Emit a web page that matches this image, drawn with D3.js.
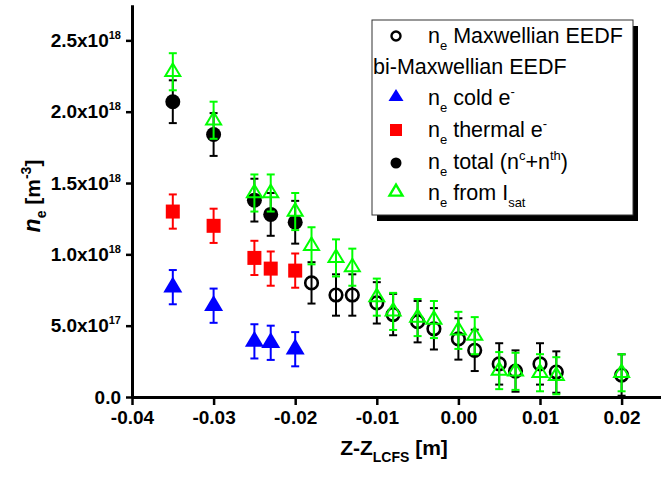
<!DOCTYPE html>
<html>
<head>
<meta charset="utf-8">
<script src="https://cdn.jsdelivr.net/npm/d3@7"></script>
<style>
  body { margin: 0; background: #fff; }
  svg { display: block; font-family: "Liberation Sans", Arial, sans-serif; }
</style>
</head>
<body>
<svg id="chart" width="661" height="477"></svg>
<script>
// Electron density profiles versus distance from the last closed flux surface
const E18 = 1e18;

// bi-Maxwellian EEDF fits (probe positions and densities, m^-3)
const biZ        = [-0.035, -0.030, -0.025, -0.023, -0.020];
const coldNe     = [0.77, 0.64, 0.39, 0.38, 0.335].map(v => v * E18);
const coldErr    = [0.12, 0.12, 0.12, 0.12, 0.12].map(v => v * E18);
const thermalNe  = [1.30, 1.20, 0.975, 0.90, 0.886].map(v => v * E18);
const thermalErr = [0.12, 0.12, 0.12, 0.12, 0.12].map(v => v * E18);
const totalNe    = [2.07, 1.84, 1.38, 1.28, 1.225].map(v => v * E18);
const totalErr   = [0.15, 0.15, 0.15, 0.15, 0.15].map(v => v * E18);

// Maxwellian EEDF fits
const maxZ   = [-0.018, -0.015, -0.013, -0.010, -0.008, -0.005, -0.003, 0.000, 0.002, 0.005, 0.007, 0.010, 0.012, 0.020];
const maxNe  = [0.80, 0.715, 0.715, 0.66, 0.578, 0.528, 0.478, 0.407, 0.327, 0.232, 0.182, 0.232, 0.175, 0.154].map(v => v * E18);
const maxErr = [0.145, 0.145, 0.145, 0.145, 0.145, 0.145, 0.145, 0.145, 0.145, 0.145, 0.145, 0.145, 0.145, 0.145].map(v => v * E18);

// Ion saturation current estimate
const isatZ   = [-0.035, -0.030, -0.025, -0.023, -0.020, -0.018, -0.015, -0.013, -0.010, -0.008, -0.005, -0.003, 0.000, 0.002, 0.005, 0.007, 0.010, 0.012, 0.020];
const isatNe  = [2.28, 1.94, 1.43, 1.43, 1.30, 1.06, 0.975, 0.91, 0.70, 0.60, 0.557, 0.543, 0.467, 0.43, 0.185, 0.18, 0.17, 0.149, 0.17].map(v => v * E18);
const isatErr = [0.13, 0.13, 0.13, 0.13, 0.13, 0.13, 0.13, 0.13, 0.13, 0.13, 0.13, 0.13, 0.13, 0.13, 0.13, 0.13, 0.13, 0.13, 0.13].map(v => v * E18);

// Axis ticks
const xMajor = [-0.04, -0.03, -0.02, -0.01, 0.00, 0.01, 0.02];
const xMinor = [-0.035, -0.025, -0.015, -0.005, 0.005, 0.015];
const xLabels = ["-0.04", "-0.03", "-0.02", "-0.01", "0.00", "0.01", "0.02"];
const yMajor = [0, 0.5, 1.0, 1.5, 2.0, 2.5].map(v => v * E18);
const yMinor = [0.25, 0.75, 1.25, 1.75, 2.25].map(v => v * E18);
const yMant  = ["0.0", "5.0x10", "1.0x10", "1.5x10", "2.0x10", "2.5x10"];
const yExp   = ["", "17", "18", "18", "18", "18"];

const svg = d3.select("#chart");
const x = d3.scaleLinear().domain([-0.04, 0.025]).range([132, 662.4]);
const y = d3.scaleLinear().domain([0, 2.75 * E18]).range([397, 4.7]);

// ---- axes ----
const axX = svg.append("g").attr("transform", `translate(0,${y(0)})`);
axX.call(d3.axisBottom(x).tickValues(xMinor).tickSize(5).tickSizeOuter(0).tickFormat(""));
axX.call(d3.axisBottom(x).tickValues(xMajor).tickSize(8).tickSizeOuter(0).tickFormat((d, i) => xLabels[i]));
axX.selectAll("path.domain").attr("stroke", "#000").attr("stroke-width", 3);
axX.selectAll(".tick line").attr("stroke", "#000").attr("stroke-width", 2.5);
axX.selectAll(".tick text")
  .attr("y", 14).attr("dy", "0.71em")
  .attr("font-size", 19).attr("font-weight", "bold")
  .attr("font-family", "Liberation Sans, Arial, sans-serif").attr("fill", "#000");

const axY = svg.append("g").attr("transform", `translate(${x(-0.04)},0)`);
axY.call(d3.axisLeft(y).tickValues(yMinor).tickSize(3).tickSizeOuter(0).tickFormat(""));
axY.call(d3.axisLeft(y).tickValues(yMajor).tickSize(6).tickSizeOuter(0).tickFormat(""));
axY.selectAll("path.domain").attr("stroke", "#000").attr("stroke-width", 3);
axY.selectAll(".tick line").attr("stroke", "#000").attr("stroke-width", 2.5);

// y tick labels with powers of ten
yMajor.forEach((v, i) => {
  const t = svg.append("text")
    .attr("x", x(-0.04) - 11).attr("y", y(v) + 6.5)
    .attr("text-anchor", "end")
    .attr("font-size", 19).attr("font-weight", "bold").attr("fill", "#000");
  t.append("tspan").text(yMant[i]);
  if (yExp[i]) t.append("tspan").attr("dy", -8).attr("font-size", 11).text(yExp[i]);
});

// axis titles
const xt = svg.append("text")
  .attr("x", 394).attr("y", 455).attr("text-anchor", "middle")
  .attr("font-size", 21).attr("font-weight", "bold").attr("fill", "#000");
xt.append("tspan").text("Z-Z");
xt.append("tspan").attr("dy", 7).attr("font-size", 14).text("LCFS");
xt.append("tspan").attr("dy", -7).text(" [m]");

const yt = svg.append("text")
  .attr("transform", "translate(40,196) rotate(-90)")
  .attr("text-anchor", "middle")
  .attr("font-size", 21).attr("font-weight", "bold").attr("fill", "#000");
yt.append("tspan").attr("font-style", "italic").attr("font-size", 23).text("n");
yt.append("tspan").attr("dy", 6).attr("font-size", 14).text("e");
yt.append("tspan").attr("dy", -6).text(" [m");
yt.append("tspan").attr("dy", -9).attr("font-size", 14).text("-3");
yt.append("tspan").attr("dy", 9).text("]");

// ---- marker shapes ----
const triPath = (w, h) => `M0,${-2 * h / 3}L${w / 2},${h / 3}L${-w / 2},${h / 3}Z`;

function errorBars(zs, vs, es, color) {
  const g = svg.append("g").attr("stroke", color).attr("stroke-width", 2).attr("fill", "none");
  zs.forEach((z, i) => {
    const cx = x(z), y0 = y(vs[i] - es[i]), y1 = y(vs[i] + es[i]);
    g.append("line").attr("x1", cx).attr("x2", cx).attr("y1", y0).attr("y2", y1);
    g.append("line").attr("x1", cx - 4).attr("x2", cx + 4).attr("y1", y0).attr("y2", y0);
    g.append("line").attr("x1", cx - 4).attr("x2", cx + 4).attr("y1", y1).attr("y2", y1);
  });
}

function markers(zs, vs, draw) {
  const g = svg.append("g");
  zs.forEach((z, i) => draw(g.append("g").attr("transform", `translate(${x(z)},${y(vs[i])})`)));
}

const drawCold    = g => g.append("path").attr("d", triPath(19, 16)).attr("fill", "#0000ff");
const drawThermal = g => g.append("rect").attr("x", -7).attr("y", -7).attr("width", 14).attr("height", 14).attr("fill", "#ff0000");
const drawTotal   = g => g.append("circle").attr("r", 7.5).attr("fill", "#000");
const drawMax     = g => g.append("circle").attr("r", 6.3).attr("fill", "none").attr("stroke", "#000").attr("stroke-width", 2.6);
const drawIsat    = g => g.append("path").attr("d", triPath(15, 12.5)).attr("fill", "none").attr("stroke", "#00ff00").attr("stroke-width", 2);

errorBars(biZ, coldNe, coldErr, "#0000ff");
markers(biZ, coldNe, drawCold);
errorBars(biZ, thermalNe, thermalErr, "#ff0000");
markers(biZ, thermalNe, drawThermal);
errorBars(biZ, totalNe, totalErr, "#000");
markers(biZ, totalNe, drawTotal);
errorBars(maxZ, maxNe, maxErr, "#000");
markers(maxZ, maxNe, drawMax);
errorBars(isatZ, isatNe, isatErr, "#00ff00");
markers(isatZ, isatNe, drawIsat);

// ---- legend ----
const lg = svg.append("g");
const lx = 372, ly = 20, lw = 261, lh = 195;
lg.append("rect").attr("x", lx + 5).attr("y", ly + 6).attr("width", lw).attr("height", lh).attr("fill", "#000");
lg.append("rect").attr("x", lx).attr("y", ly).attr("width", lw).attr("height", lh)
  .attr("fill", "#fff").attr("stroke", "#333").attr("stroke-width", 1);

const rowY = [43, 74, 105, 137, 169, 200];
const symX = 396, txtX = 428;

function legendText(yb, xs, parts) {
  const t = lg.append("text").attr("x", xs).attr("y", yb).attr("font-size", 21.5).attr("fill", "#000");
  let shift = 0;
  parts.forEach(p => {
    const target = p.sub ? 7 : p.sup ? -9 : 0;
    const s = t.append("tspan").attr("dy", target - shift).text(p.t);
    if (p.sub || p.sup) s.attr("font-size", 13);
    shift = target;
  });
}

const symG = (yy) => lg.append("g").attr("transform", `translate(${symX},${yy})`);
drawMax(symG(rowY[0] - 7)).attr("r", 4.5).attr("stroke-width", 2.4);
legendText(rowY[0], txtX, [{t: "n"}, {t: "e", sub: true}, {t: " Maxwellian EEDF"}]);
legendText(rowY[1], lx + 1, [{t: "bi-Maxwellian EEDF"}]);
symG(rowY[2] - 8).append("path").attr("d", triPath(15, 12)).attr("fill", "#0000ff");
legendText(rowY[2], txtX, [{t: "n"}, {t: "e", sub: true}, {t: " cold e"}, {t: "-", sup: true}]);
symG(rowY[3] - 7).append("rect").attr("x", -6).attr("y", -6).attr("width", 12).attr("height", 12).attr("fill", "#ff0000");
legendText(rowY[3], txtX, [{t: "n"}, {t: "e", sub: true}, {t: " thermal e"}, {t: "-", sup: true}]);
symG(rowY[4] - 6).append("circle").attr("r", 5.5).attr("fill", "#000");
legendText(rowY[4], txtX, [{t: "n"}, {t: "e", sub: true}, {t: " total (n"}, {t: "c", sup: true}, {t: "+n"}, {t: "th", sup: true}, {t: ")"}]);
symG(rowY[5] - 8).append("path").attr("d", triPath(13, 11)).attr("fill", "none").attr("stroke", "#00ff00").attr("stroke-width", 2.4);
legendText(rowY[5], txtX, [{t: "n"}, {t: "e", sub: true}, {t: " from I"}, {t: "sat", sub: true}]);
</script>
</body>
</html>
